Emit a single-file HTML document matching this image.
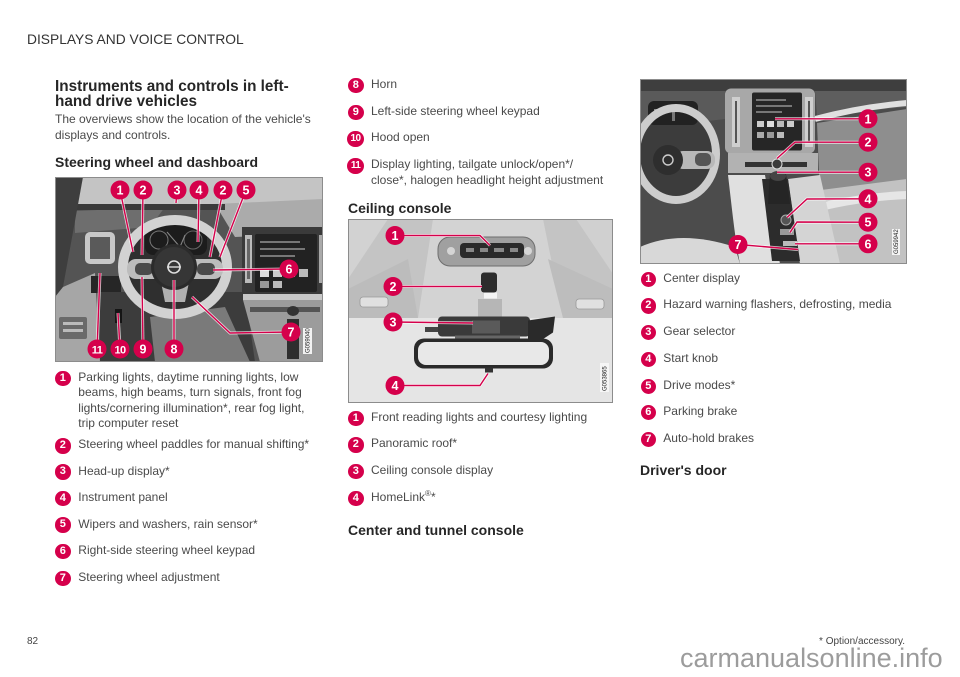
<!DOCTYPE html>
<html><head><meta charset="utf-8">
<style>
*{margin:0;padding:0;box-sizing:border-box}
body{width:960px;height:677px;position:relative;background:#fff;overflow:hidden;font-family:"Liberation Sans",Arial,sans-serif}
.t{position:absolute;white-space:nowrap;font-size:12px;line-height:15.6px;color:#4a4a4a}
.h{position:absolute;white-space:nowrap;font-size:14px;line-height:16px;font-weight:bold;color:#262626}
.b{position:absolute;width:15.5px;height:15.5px;border-radius:50%;background:#d5004b;color:#fff;font-weight:bold;font-size:11px;line-height:15.5px;text-align:center}
.b.w{width:17px;border-radius:8px;font-size:10px;letter-spacing:-0.6px}
svg{position:absolute;overflow:hidden}
svg text.n{font-family:"Liberation Sans",Arial,sans-serif;font-weight:bold;font-size:12.5px;fill:#fff;text-anchor:middle}
svg text.c{font-family:"Liberation Sans",Arial,sans-serif;font-size:6px;fill:#222}
sup{font-size:8px;line-height:0;vertical-align:5px}
</style></head><body>

<div style="position:absolute;left:27px;top:31.5px;font-size:13.8px;line-height:15px;color:#333;white-space:nowrap">DISPLAYS AND VOICE CONTROL</div>

<div style="position:absolute;left:55px;top:78.8px;font-size:15.3px;line-height:15px;font-weight:bold;color:#262626;white-space:nowrap">Instruments and controls in left-<br>hand drive vehicles</div>
<div class="t" style="left:55px;top:112px">The overviews show the location of the vehicle's<br>displays and controls.</div>
<div class="h" style="left:55px;top:153.9px">Steering wheel and dashboard</div>

<!-- IMAGE 1: dashboard -->
<svg style="left:55px;top:177px" width="268" height="185" viewBox="0 0 268 185">
<rect width="268" height="185" fill="#545454"/>
<rect width="268" height="27" fill="#c4c4c4"/>
<polygon points="160,27 268,22 268,56 180,60" fill="#ababab"/>
<polygon points="20,34 110,30 95,50 20,56" fill="#6e6e6e"/>
<rect x="20" y="27" width="150" height="6" fill="#3a3a3a"/>
<polygon points="0,0 28,0 18,55 8,110 0,120" fill="#3e3e3e"/>
<polygon points="0,120 8,110 40,96 45,185 0,185" fill="#a6a6a6"/>
<rect x="4" y="140" width="28" height="22" rx="2" fill="#6a6a6a"/>
<rect x="8" y="145" width="20" height="3" fill="#bbb"/><rect x="8" y="152" width="20" height="3" fill="#bbb"/>
<rect x="30" y="55" width="30" height="32" rx="5" fill="#c8c8c8"/>
<rect x="35" y="60" width="20" height="22" fill="#5a5a5a"/>
<rect x="36" y="99" width="30" height="17" fill="#262626"/>
<polygon points="45,115 190,115 200,185 45,185" fill="#3c3c3c"/>
<polygon points="95,140 170,130 195,185 100,185" fill="#7a7a7a"/>
<rect x="60" y="132" width="7" height="14" fill="#151515"/>
<rect x="187" y="50" width="81" height="68" fill="#3a3a3a"/>
<rect x="200" y="57" width="62" height="58" rx="2" fill="#222"/>
<rect x="205" y="64" width="40" height="2" fill="#777"/><rect x="205" y="71" width="45" height="2" fill="#777"/><rect x="205" y="78" width="35" height="2" fill="#777"/>
<rect x="205" y="92" width="9" height="8" fill="#ddd"/><rect x="218" y="92" width="9" height="8" fill="#ccc"/><rect x="231" y="92" width="9" height="8" fill="#ddd"/><rect x="244" y="92" width="9" height="8" fill="#bbb"/>
<rect x="205" y="104" width="9" height="7" fill="#999"/><rect x="218" y="104" width="9" height="7" fill="#bbb"/>
<rect x="190" y="58" width="7" height="48" fill="#bbb"/>
<rect x="192" y="62" width="3" height="40" fill="#666"/>
<rect x="264" y="58" width="4" height="48" fill="#aaa"/>
<rect x="188" y="117" width="80" height="6" fill="#c8c8c8"/>
<polygon points="188,123 268,123 268,185 205,185" fill="#9c9c9c"/>
<rect x="195" y="130" width="70" height="5" fill="#555"/>
<ellipse cx="238" cy="134" rx="6" ry="5" fill="#333"/>
<rect x="232" y="142" width="12" height="40" fill="#2e2e2e"/>
<ellipse cx="120" cy="90" rx="47" ry="42" fill="#2f2f2f"/>
<rect x="90" y="48" width="62" height="30" rx="8" fill="#1c1c1c"/>
<circle cx="104" cy="63" r="9" fill="none" stroke="#777" stroke-width="1"/>
<circle cx="138" cy="63" r="9" fill="none" stroke="#666" stroke-width="1"/>
<path d="M112,55 L125,70 L130,58" stroke="#888" stroke-width="1" fill="none"/>
<ellipse cx="120" cy="90" rx="52" ry="47" fill="none" stroke="#d2d2d2" stroke-width="10"/>
<rect x="72" y="82" width="96" height="20" rx="9" fill="#bcbcbc"/>
<rect x="80" y="86" width="18" height="12" rx="5" fill="#4a4a4a"/>
<rect x="142" y="86" width="18" height="12" rx="5" fill="#4a4a4a"/>
<polygon points="105,100 135,100 130,125 110,125" fill="#b0b0b0"/>
<circle cx="119" cy="90" r="23" fill="#2b2b2b"/>
<circle cx="119" cy="90" r="20" fill="#363636"/>
<circle cx="119" cy="90" r="6" fill="none" stroke="#ddd" stroke-width="1.6"/>
<line x1="112" y1="90" x2="126" y2="90" stroke="#ddd" stroke-width="1.4"/>
<rect x="248" y="151" width="9" height="26" fill="#f2f2f2"/>
<text class="c" transform="translate(254.5,176) rotate(-90)">G059040</text>
<g stroke="#fff" stroke-width="3" fill="none" stroke-opacity=".75">
<polyline points="65,13 78,75"/><polyline points="88,13 87,78"/><polyline points="122,13 121,26"/><polyline points="144,13 143,65"/><polyline points="168,13 155,80"/><polyline points="191,13 165,80"/><polyline points="234,92 158,93"/><polyline points="236,155 175,156 137,120"/><polyline points="119,172 119,103"/><polyline points="88,172 87,100"/><polyline points="65,172 63,136"/><polyline points="42,172 45,96"/>
</g>
<g stroke="#d5004b" stroke-width="1.4" fill="none">
<polyline points="65,13 78,75"/><polyline points="88,13 87,78"/><polyline points="122,13 121,26"/><polyline points="144,13 143,65"/><polyline points="168,13 155,80"/><polyline points="191,13 165,80"/><polyline points="234,92 158,93"/><polyline points="236,155 175,156 137,120"/><polyline points="119,172 119,103"/><polyline points="88,172 87,100"/><polyline points="65,172 63,136"/><polyline points="42,172 45,96"/>
</g>
<g fill="#d5004b">
<circle cx="65" cy="13" r="9.5"/><circle cx="88" cy="13" r="9.5"/><circle cx="122" cy="13" r="9.5"/><circle cx="144" cy="13" r="9.5"/><circle cx="168" cy="13" r="9.5"/><circle cx="191" cy="13" r="9.5"/><circle cx="234" cy="92" r="9.5"/><circle cx="236" cy="155" r="9.5"/><circle cx="119" cy="172" r="9.5"/><circle cx="88" cy="172" r="9.5"/><circle cx="65" cy="172" r="9.5"/><circle cx="42" cy="172" r="9.5"/>
</g>
<text class="n" x="65" y="17.5">1</text><text class="n" x="88" y="17.5">2</text><text class="n" x="122" y="17.5">3</text><text class="n" x="144" y="17.5">4</text><text class="n" x="168" y="17.5">2</text><text class="n" x="191" y="17.5">5</text><text class="n" x="234" y="96.5">6</text><text class="n" x="236" y="159.5">7</text><text class="n" x="119" y="176.5">8</text><text class="n" x="88" y="176.5">9</text><text class="n" x="65" y="176.5" style="font-size:11px;letter-spacing:-0.6px">10</text><text class="n" x="42" y="176.5" style="font-size:11px;letter-spacing:-0.6px">11</text>
<rect x="0.5" y="0.5" width="267" height="184" fill="none" stroke="#8c8c8c"/>
</svg>

<!-- left list -->
<div class="b" style="left:55px;top:370.5px">1</div>
<div class="t" style="left:78.3px;top:369.7px">Parking lights, daytime running lights, low<br>beams, high beams, turn signals, front fog<br>lights/cornering illumination*, rear fog light,<br>trip computer reset</div>
<div class="b" style="left:55px;top:438.1px">2</div>
<div class="t" style="left:78.3px;top:437.3px">Steering wheel paddles for manual shifting*</div>
<div class="b" style="left:55px;top:464.3px">3</div>
<div class="t" style="left:78.3px;top:463.5px">Head-up display*</div>
<div class="b" style="left:55px;top:490.8px">4</div>
<div class="t" style="left:78.3px;top:490px">Instrument panel</div>
<div class="b" style="left:55px;top:517.3px">5</div>
<div class="t" style="left:78.3px;top:516.5px">Wipers and washers, rain sensor*</div>
<div class="b" style="left:55px;top:543.8px">6</div>
<div class="t" style="left:78.3px;top:543px">Right-side steering wheel keypad</div>
<div class="b" style="left:55px;top:570.5px">7</div>
<div class="t" style="left:78.3px;top:569.7px">Steering wheel adjustment</div>

<!-- middle column -->
<div class="b" style="left:348px;top:77.8px">8</div>
<div class="t" style="left:371px;top:77px">Horn</div>
<div class="b" style="left:348px;top:104.5px">9</div>
<div class="t" style="left:371px;top:103.7px">Left-side steering wheel keypad</div>
<div class="b w" style="left:347px;top:131.1px">10</div>
<div class="t" style="left:371px;top:130.3px">Hood open</div>
<div class="b w" style="left:347px;top:158.1px">11</div>
<div class="t" style="left:371px;top:157.3px">Display lighting, tailgate unlock/open*/<br>close*, halogen headlight height adjustment</div>
<div class="h" style="left:348px;top:199.9px">Ceiling console</div>

<!-- IMAGE 2: ceiling -->
<svg style="left:348px;top:218.5px" width="265" height="184" viewBox="0 0 265 184">
<rect width="265" height="184" fill="#c4c4c4"/>
<polygon points="85,0 195,0 215,99 70,99" fill="#d3d3d3"/>
<polygon points="0,0 40,0 0,60" fill="#d2d2d2"/>
<polygon points="265,0 228,0 265,55" fill="#d0d0d0"/>
<polygon points="0,70 60,40 70,99 0,99" fill="#bcbcbc"/>
<polygon points="265,70 200,40 215,99 265,99" fill="#bdbdbd"/>
<rect y="99" width="265" height="85" fill="#e5e5e5"/>
<rect x="12" y="78" width="28" height="10" rx="3" fill="#e0e0e0" stroke="#999" stroke-width="0.8"/>
<rect x="228" y="80" width="28" height="10" rx="3" fill="#e0e0e0" stroke="#999" stroke-width="0.8"/>
<rect x="90" y="18" width="97" height="29" rx="12" fill="#a0a0a0" stroke="#6e6e6e"/>
<rect x="112" y="24" width="64" height="15" rx="4" fill="#2a2a2a"/>
<circle cx="103" cy="32" r="4" fill="#d5d5d5"/><circle cx="180" cy="32" r="4" fill="#d5d5d5"/>
<rect x="118" y="29" width="8" height="4" fill="#888"/><rect x="132" y="29" width="8" height="4" fill="#888"/><rect x="146" y="29" width="10" height="4" fill="#888"/><rect x="162" y="29" width="8" height="4" fill="#888"/>
<rect x="133" y="53.5" width="16" height="20" rx="3" fill="#2c2c2c"/>
<rect x="136" y="73.5" width="13" height="6" fill="#f4f4f4"/>
<rect x="130" y="80" width="24" height="19" fill="#b6b6b6"/>
<rect x="77" y="108" width="13" height="5" fill="#444"/>
<rect x="90" y="97.5" width="92" height="20" rx="4" fill="#3a3a3a"/>
<rect x="124" y="101.5" width="28" height="13" fill="#5a5a5a"/>
<polygon points="180,101.5 207,97.5 205,113.5 189,124 180,121.5" fill="#2a2a2a"/>
<rect x="107" y="116.5" width="65" height="8" fill="#666"/>
<rect x="66" y="119.5" width="139" height="30" rx="10" fill="#2a2a2a"/>
<rect x="70" y="123" width="131" height="23" rx="8" fill="#e8e8e8"/>
<rect x="137" y="148.5" width="8" height="5" fill="#333"/>
<rect x="252" y="144" width="9" height="29" fill="#f6f6f6"/>
<text class="c" transform="translate(258.5,172) rotate(-90)">G053865</text>
<g stroke="#fff" stroke-width="3" fill="none" stroke-opacity=".75">
<polyline points="47,16.5 132,16.5 142,26.5"/><polyline points="45,67.5 134,67.5"/><polyline points="45,103 125,104"/><polyline points="47,166.5 132,166.5 140,154.5"/>
</g>
<g stroke="#d5004b" stroke-width="1.4" fill="none">
<polyline points="47,16.5 132,16.5 142,26.5"/><polyline points="45,67.5 134,67.5"/><polyline points="45,103 125,104"/><polyline points="47,166.5 132,166.5 140,154.5"/>
</g>
<g fill="#d5004b"><circle cx="47" cy="16.5" r="9.5"/><circle cx="45" cy="67.5" r="9.5"/><circle cx="45" cy="103" r="9.5"/><circle cx="47" cy="166.5" r="9.5"/></g>
<text class="n" x="47" y="21">1</text><text class="n" x="45" y="72">2</text><text class="n" x="45" y="107.5">3</text><text class="n" x="47" y="171">4</text>
<rect x="0.5" y="0.5" width="264" height="183" fill="none" stroke="#8c8c8c"/>
</svg>

<div class="b" style="left:348px;top:410.5px">1</div>
<div class="t" style="left:371px;top:409.7px">Front reading lights and courtesy lighting</div>
<div class="b" style="left:348px;top:437.1px">2</div>
<div class="t" style="left:371px;top:436.3px">Panoramic roof*</div>
<div class="b" style="left:348px;top:463.8px">3</div>
<div class="t" style="left:371px;top:463px">Ceiling console display</div>
<div class="b" style="left:348px;top:490.5px">4</div>
<div class="t" style="left:371px;top:489.7px">HomeLink<sup>®</sup>*</div>
<div class="h" style="left:348px;top:522.2px">Center and tunnel console</div>

<!-- IMAGE 3: center console -->
<svg style="left:640px;top:78.5px" width="267" height="185" viewBox="0 0 267 185">
<rect width="267" height="185" fill="#4c4c4c"/>
<rect width="267" height="12" fill="#3e3e3e"/>
<polygon points="0,12 85,12 85,40 0,50" fill="#5a5a5a"/>
<polygon points="175,12 267,12 267,28 177,36" fill="#5e5e5e"/>
<polygon points="177,44 267,30 267,110 180,120" fill="#8e8e8e"/>
<path d="M175,40 Q220,28 267,24" stroke="#e0e0e0" stroke-width="6" fill="none"/>
<polygon points="150,115 267,100 267,185 170,185" fill="#c2c2c2"/>
<path d="M165,132 Q215,118 267,116" stroke="#e6e6e6" stroke-width="8" fill="none"/>
<rect x="85" y="9.5" width="90" height="65" rx="6" fill="#a8a8a8"/>
<rect x="92" y="18" width="8" height="50" fill="#cfcfcf"/><rect x="95" y="22" width="2" height="42" fill="#555"/>
<rect x="165" y="18" width="8" height="50" fill="#cfcfcf"/><rect x="168" y="22" width="2" height="42" fill="#555"/>
<rect x="112" y="13.5" width="50" height="58" rx="2" fill="#262626"/>
<rect x="116" y="20" width="30" height="2" fill="#777"/><rect x="116" y="26" width="36" height="2" fill="#777"/><rect x="116" y="32" width="26" height="2" fill="#777"/>
<rect x="117" y="42" width="7" height="6" fill="#ccc"/><rect x="127" y="42" width="7" height="6" fill="#ddd"/><rect x="137" y="42" width="7" height="6" fill="#bbb"/><rect x="147" y="42" width="7" height="6" fill="#ccc"/>
<rect x="117" y="53" width="7" height="6" fill="#aaa"/><rect x="127" y="53" width="7" height="6" fill="#999"/><rect x="137" y="53" width="7" height="6" fill="#bbb"/>
<rect x="88" y="74" width="90" height="20" fill="#b2b2b2"/>
<rect x="105" y="83" width="62" height="5" fill="#333"/>
<circle cx="137" cy="85" r="5" fill="#3a3a3a" stroke="#ddd" stroke-width="1"/>
<path d="M88,96 C92,130 95,160 100,185 L140,185 L125,96 Z" fill="#e0e0e0"/>
<polygon points="148,100 180,96 200,185 160,185" fill="#d4d4d4"/>
<polygon points="122,100 148,100 160,182 132,182" fill="#2c2c2c"/>
<path d="M130,95 L146,95 L150,125 L128,125 Z" fill="#252525"/>
<ellipse cx="138" cy="97" rx="8" ry="5" fill="#444"/>
<circle cx="146" cy="141" r="5" fill="#555" stroke="#aaa"/>
<rect x="140" y="150" width="14" height="6" fill="#999"/>
<rect x="143" y="162" width="14" height="5" fill="#bbb"/>
<path d="M0,168 Q40,150 95,168 L100,185 L0,185 Z" fill="#d8d8d8"/>
<ellipse cx="36" cy="75" rx="36" ry="42" fill="#3c3c3c"/>
<rect x="8" y="22" width="50" height="24" rx="6" fill="#222"/>
<rect x="14" y="30" width="12" height="2" fill="#888"/><rect x="32" y="28" width="3" height="14" fill="#777"/>
<ellipse cx="36" cy="75" rx="40" ry="46" fill="none" stroke="#cdcdcd" stroke-width="8"/>
<rect x="35" y="72" width="40" height="18" rx="8" fill="#b8b8b8"/>
<rect x="55" y="74" width="16" height="13" rx="5" fill="#555"/>
<circle cx="28" cy="81" r="15" fill="#2e2e2e"/>
<circle cx="28" cy="81" r="5" fill="none" stroke="#ccc" stroke-width="1.4"/>
<rect x="252" y="150" width="8" height="26" fill="#f4f4f4"/>
<text class="c" transform="translate(258,175) rotate(-90)">G059942</text>
<g stroke="#fff" stroke-width="3" fill="none" stroke-opacity=".75">
<polyline points="228,39.8 135,39.8"/><polyline points="228,63.2 155,63.2 137,79.5"/><polyline points="228,93.2 137,93.2"/><polyline points="228,119.8 167,120 147,138.5"/><polyline points="228,143.2 157,143 150,153.5"/><polyline points="228,164.8 155,164.8"/><polyline points="98,165.5 158,170.5"/>
</g>
<g stroke="#d5004b" stroke-width="1.4" fill="none">
<polyline points="228,39.8 135,39.8"/><polyline points="228,63.2 155,63.2 137,79.5"/><polyline points="228,93.2 137,93.2"/><polyline points="228,119.8 167,120 147,138.5"/><polyline points="228,143.2 157,143 150,153.5"/><polyline points="228,164.8 155,164.8"/><polyline points="98,165.5 158,170.5"/>
</g>
<g fill="#d5004b"><circle cx="228" cy="39.8" r="9.5"/><circle cx="228" cy="63.2" r="9.5"/><circle cx="228" cy="93.2" r="9.5"/><circle cx="228" cy="119.8" r="9.5"/><circle cx="228" cy="143.2" r="9.5"/><circle cx="228" cy="164.8" r="9.5"/><circle cx="98" cy="165.5" r="9.5"/></g>
<text class="n" x="228" y="44.3">1</text><text class="n" x="228" y="67.7">2</text><text class="n" x="228" y="97.7">3</text><text class="n" x="228" y="124.3">4</text><text class="n" x="228" y="147.7">5</text><text class="n" x="228" y="169.3">6</text><text class="n" x="98" y="170">7</text>
<rect x="0.5" y="0.5" width="266" height="184" fill="none" stroke="#8c8c8c"/>
</svg>

<!-- right list -->
<div class="b" style="left:640.5px;top:271.5px">1</div>
<div class="t" style="left:663.3px;top:270.7px">Center display</div>
<div class="b" style="left:640.5px;top:298.1px">2</div>
<div class="t" style="left:663.3px;top:297.3px">Hazard warning flashers, defrosting, media</div>
<div class="b" style="left:640.5px;top:324.8px">3</div>
<div class="t" style="left:663.3px;top:324px">Gear selector</div>
<div class="b" style="left:640.5px;top:351.5px">4</div>
<div class="t" style="left:663.3px;top:350.7px">Start knob</div>
<div class="b" style="left:640.5px;top:378.8px">5</div>
<div class="t" style="left:663.3px;top:378px">Drive modes*</div>
<div class="b" style="left:640.5px;top:404.8px">6</div>
<div class="t" style="left:663.3px;top:404px">Parking brake</div>
<div class="b" style="left:640.5px;top:431.5px">7</div>
<div class="t" style="left:663.3px;top:430.7px">Auto-hold brakes</div>
<div class="h" style="left:640px;top:462.2px">Driver's door</div>

<!-- footer -->
<div style="position:absolute;left:27px;top:635.5px;font-size:10px;line-height:12px;color:#444;white-space:nowrap">82</div>
<div style="position:absolute;right:55px;top:635.5px;font-size:10px;line-height:12px;color:#444;white-space:nowrap">* Option/accessory.</div>
<div style="position:absolute;left:680px;top:642.6px;font-size:27px;line-height:30px;color:#9c9c9c;white-space:nowrap">carmanualsonline.info</div>

</body></html>
